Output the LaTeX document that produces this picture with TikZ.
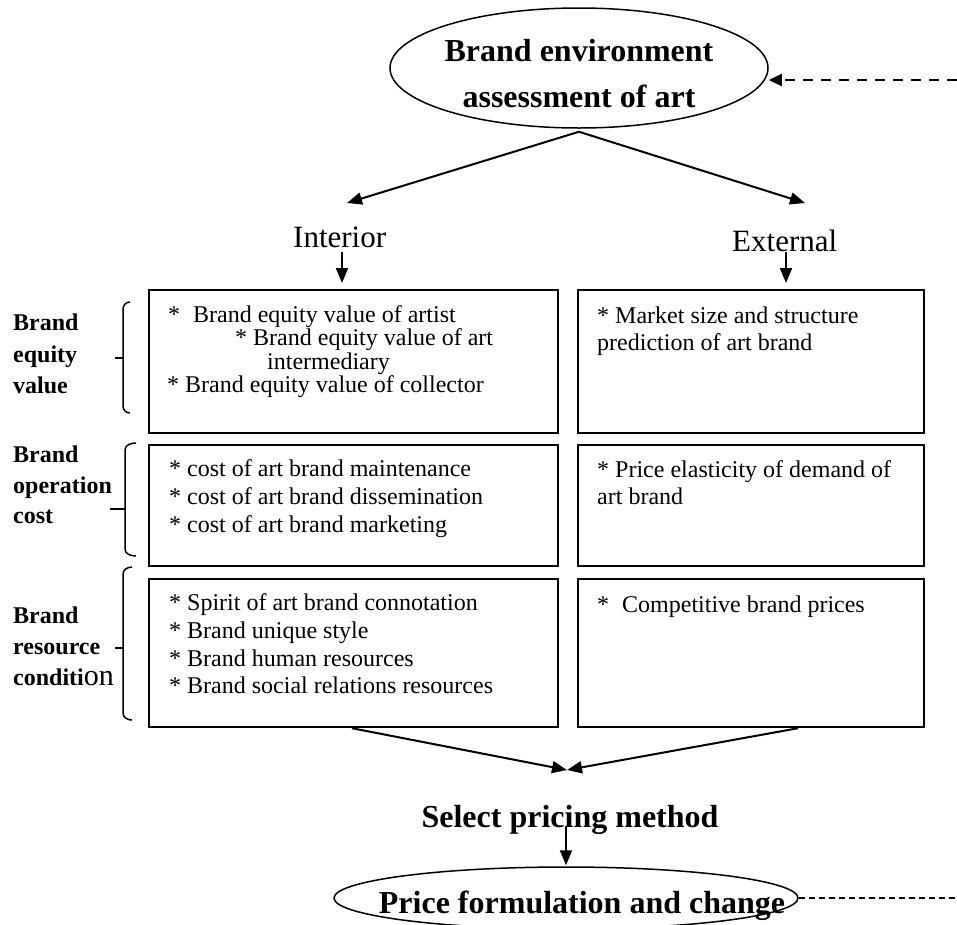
\documentclass[tikz,border=0pt]{standalone}
\usepackage{fontspec}
\setmainfont{Liberation Serif}
\usetikzlibrary{arrows.meta,shapes.geometric,calc}
\tikzset{
  box/.style={draw,line width=2.2pt,inner sep=0pt,anchor=north west},
  body/.style={font=\fontsize{24}{28}\selectfont,inner sep=0pt,anchor=base west},
  lab/.style={font=\fontsize{24}{28}\bfseries\selectfont,inner sep=0pt,anchor=base west},
  sub/.style={font=\fontsize{31}{34}\selectfont,inner sep=0pt,anchor=base west},
  ttl/.style={font=\fontsize{32}{36}\bfseries\selectfont,inner sep=0pt,anchor=base},
  ell/.style={draw,ellipse,line width=1.5pt,inner sep=0pt},
  arr/.style={-{Triangle[length=15pt,width=12pt]},line width=2pt},
  dasharr/.style={-{Triangle[length=13pt,width=12pt]},line width=2pt,dash pattern=on 10pt off 8pt},
  dashthin/.style={line width=1.2pt,dash pattern=on 6pt off 4pt},
  brk/.style={line width=1.5pt}
}
\begin{document}
\begin{tikzpicture}[x=1pt,y=-1pt]
\useasboundingbox (0,0) rectangle (957,924);
\clip (0,0) rectangle (957,924);

% top ellipse
\node[ell,minimum width=378pt,minimum height=120pt] (top) at (579,68) {};
\node[ttl] (top1) at (579,61) {Brand environment};
\node[ttl] (top2) at (579,107) {assessment of art};

% interior / external
\node[sub] (int) at (293,247) {Interior};
\node[sub] (ext) at (732,251) {External};

% boxes
\node[box,minimum width=409pt,minimum height=143pt] (L1) at (148,289) {};
\node[box,minimum width=409pt,minimum height=121pt] (L2) at (148,444) {};
\node[box,minimum width=409pt,minimum height=148pt] (L3) at (148,578) {};
\node[box,minimum width=346pt,minimum height=143pt] (R1) at (577,289) {};
\node[box,minimum width=346pt,minimum height=121pt] (R2) at (577,444) {};
\node[box,minimum width=346pt,minimum height=148pt] (R3) at (577,578) {};

% box texts
\node[body] (a1) at (168,322) {*\hspace{13pt}Brand equity value of artist};
\node[body] (a2) at (235,345) {* Brand equity value of art};
\node[body] (a3) at (267,369) {intermediary};
\node[body] (a4) at (167,392) {* Brand equity value of collector};
\node[body] (b1) at (169,476) {* cost of art brand maintenance};
\node[body] (b2) at (169,504) {* cost of art brand dissemination};
\node[body] (b3) at (169,532) {* cost of art brand marketing};
\node[body] (c1) at (169,610) {* Spirit of art brand connotation};
\node[body] (c2) at (169,638) {* Brand unique style};
\node[body] (c3) at (169,666) {* Brand human resources};
\node[body] (c4) at (169,693) {* Brand social relations resources};
\node[body] (d1) at (597,323) {* Market size and structure};
\node[body] (d2) at (597,350) {prediction of art brand};
\node[body] (e1) at (597,477) {* Price elasticity of demand of};
\node[body] (e2) at (597,504) {art brand};
\node[body] (f1) at (597,612) {*\hspace{13pt}Competitive brand prices};

% left labels
\node[lab] (g1) at (13,330) {Brand};
\node[lab] (g2) at (13,362) {equity};
\node[lab] (g3) at (13,393) {value};
\node[lab] (h1) at (13,462) {Brand};
\node[lab] (h2) at (13,493) {operation};
\node[lab] (h3) at (13,523) {cost};
\node[lab] (k1) at (13,623) {Brand};
\node[lab] (k2) at (13,654) {resource};
\node[lab] (k3) at (13,685) {conditi{\fontsize{30}{30}\mdseries\selectfont on}};

% brackets
\draw[brk] (130,302) to[out=180,in=90] (123,309) -- (123,406) to[out=-90,in=180] (130,413);
\draw[brk] (115,358) -- (123,358);
\draw[brk] (136,443) to[out=180,in=90] (125,450) -- (125,549) to[out=-90,in=180] (136,556);
\draw[brk] (110,509) -- (125,509);
\draw[brk] (132,567) to[out=180,in=90] (123,574) -- (123,713) to[out=-90,in=180] (132,720);
\draw[brk] (115,648) -- (123,648);

% bottom part
\node[ttl] (sel) at (570,827) {Select pricing method};
\node[ell,minimum width=464pt,minimum height=62pt] (pf) at (566,898) {};
\node[ttl] (pft) at (582,913) {Price formulation and change};

% connectors
\coordinate (tipL) at (347,203);
\coordinate (tipR) at (805,203);
\draw[arr] ([yshift=-3pt]top.south) -- (tipL);
\draw[arr] ([yshift=-3pt]top.south) -- (tipR);
\coordinate (intA) at (342,252);
\coordinate (extA) at (786,252);
\draw[arr,shorten >=6pt] (intA) -- (intA |- L1.north);
\draw[arr,shorten >=6pt] (extA) -- (extA |- R1.north);
\coordinate (meet) at (567,770);
\draw[arr] ([xshift=204pt]L3.south west) -- (meet);
\draw[arr] ([xshift=221pt]R3.south west) -- (meet);
\draw[arr,shorten >=1pt] (sel.base -| pf.north) -- (pf.north);
\coordinate (rtop) at (957,80);
\draw[dasharr] (rtop) -- (rtop -| top.east);
\coordinate (rbot) at (957,898);
\draw[dashthin] (pf.east) -- (rbot);
\end{tikzpicture}
\end{document}
